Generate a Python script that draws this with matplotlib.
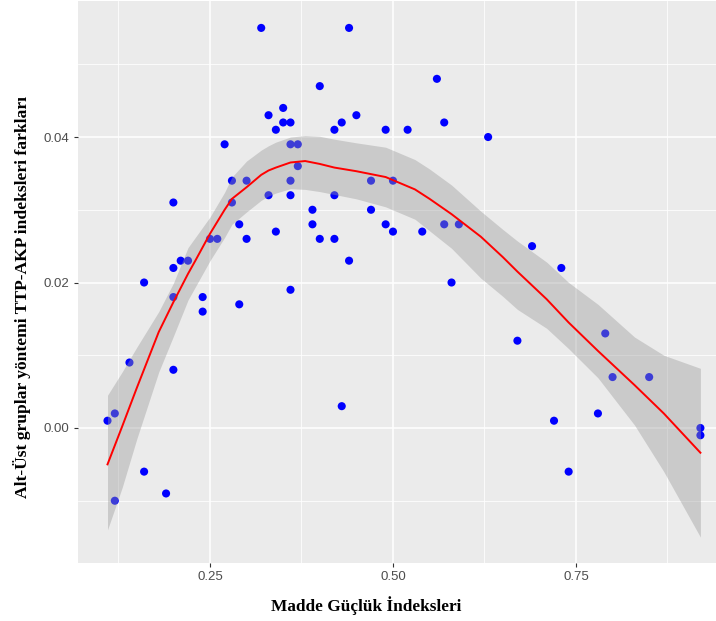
import numpy as np
import matplotlib
matplotlib.use("Agg")
import matplotlib.pyplot as plt

# item difficulty (x) vs. TTP-AKP index difference (y)
guclluk = [0.11, 0.12, 0.12, 0.14, 0.16, 0.16, 0.19, 0.20, 0.20, 0.20,
           0.20, 0.21, 0.22, 0.24, 0.24, 0.25, 0.26, 0.27, 0.28, 0.28,
           0.29, 0.29, 0.30, 0.30, 0.32, 0.33, 0.33, 0.34, 0.34, 0.35,
           0.35, 0.36, 0.36, 0.36, 0.36, 0.36, 0.37, 0.37, 0.39, 0.39,
           0.40, 0.40, 0.42, 0.42, 0.42, 0.43, 0.43, 0.44, 0.44, 0.45,
           0.47, 0.47, 0.49, 0.49, 0.50, 0.50, 0.52, 0.54, 0.56, 0.57,
           0.57, 0.58, 0.59, 0.63, 0.67, 0.69, 0.72, 0.73, 0.74, 0.78,
           0.79, 0.80, 0.85, 0.92, 0.92]
fark = [0.001, 0.002, -0.010, 0.009, 0.020, -0.006, -0.009, 0.031, 0.022, 0.018,
        0.008, 0.023, 0.023, 0.018, 0.016, 0.026, 0.026, 0.039, 0.034, 0.031,
        0.028, 0.017, 0.034, 0.026, 0.055, 0.043, 0.032, 0.041, 0.027, 0.044,
        0.042, 0.042, 0.039, 0.034, 0.032, 0.019, 0.039, 0.036, 0.030, 0.028,
        0.047, 0.026, 0.041, 0.032, 0.026, 0.042, 0.003, 0.055, 0.023, 0.043,
        0.034, 0.030, 0.041, 0.028, 0.034, 0.027, 0.041, 0.027, 0.048, 0.042,
        0.028, 0.020, 0.028, 0.040, 0.012, 0.025, 0.001, 0.022, -0.006, 0.002,
        0.013, 0.007, 0.007, 0.000, -0.001]

# loess curve and confidence band
smooth_x = [0.11, 0.13, 0.15, 0.18, 0.20, 0.22, 0.23, 0.25, 0.27, 0.28,
            0.30, 0.32, 0.33, 0.34, 0.36, 0.38, 0.40, 0.42, 0.45, 0.49,
            0.53, 0.55, 0.58, 0.62, 0.65, 0.67, 0.71, 0.74, 0.78, 0.83,
            0.87, 0.92]
smooth_fit = [-0.0050, 0.0002, 0.0055, 0.0132, 0.0173, 0.0212, 0.0230, 0.0267, 0.0300, 0.0315,
              0.0331, 0.0348, 0.0354, 0.0358, 0.0365, 0.0367, 0.0363, 0.0358, 0.0353, 0.0345,
              0.0328, 0.0315, 0.0294, 0.0263, 0.0235, 0.0215, 0.0177, 0.0145, 0.0106, 0.0059,
              0.0020, -0.0034]
smooth_hi = [0.0045, 0.0077, 0.0111, 0.0160, 0.0199, 0.0248, 0.0262, 0.0290, 0.0324, 0.0345,
             0.0367, 0.0382, 0.0388, 0.0393, 0.0400, 0.0402, 0.0401, 0.0397, 0.0392, 0.0386,
             0.0369, 0.0356, 0.0334, 0.0298, 0.0273, 0.0257, 0.0228, 0.0200, 0.0170, 0.0125,
             0.0100, 0.0082]
smooth_lo = [-0.0140, -0.0082, -0.0015, 0.0077, 0.0126, 0.0176, 0.0194, 0.0230, 0.0262, 0.0280,
             0.0297, 0.0313, 0.0319, 0.0323, 0.0329, 0.0328, 0.0325, 0.0321, 0.0315, 0.0304,
             0.0287, 0.0271, 0.0247, 0.0206, 0.0181, 0.0163, 0.0137, 0.0109, 0.0069, 0.0004,
             -0.0060, -0.0150]

x_ticks = [0.25, 0.50, 0.75]
x_labels = ["0.25", "0.50", "0.75"]
y_ticks = [0.00, 0.02, 0.04]
y_labels = ["0.00", "0.02", "0.04"]

fig = plt.figure(figsize=(7.16, 6.21), dpi=100)
ax = fig.add_axes([78 / 716, 1 - 563 / 621, 638 / 716, 562 / 621])
ax.set_facecolor("#EBEBEB")
for s in ax.spines.values():
    s.set_visible(False)

ax.set_xlim(0.0697, 0.9413)
ax.set_ylim(-0.01856, 0.0587)

ax.set_xticks(x_ticks)
ax.set_xticklabels(x_labels)
ax.set_yticks(y_ticks)
ax.set_yticklabels(y_labels)
ax.set_xticks([0.125, 0.375, 0.625, 0.875], minor=True)
ax.set_yticks([-0.01, 0.01, 0.03, 0.05], minor=True)
ax.grid(which="major", color="white", linewidth=1.1)
ax.grid(which="minor", color="white", linewidth=0.55)
ax.set_axisbelow(True)
ax.tick_params(which="major", length=3, width=0.8, color="#333333",
               labelcolor="#4D4D4D", labelsize=9.5, pad=3)
ax.tick_params(which="minor", length=0)
for lab in ax.get_xticklabels() + ax.get_yticklabels():
    lab.set_fontfamily("Liberation Sans")

ax.scatter(guclluk, fark, s=34, color="#0000FF", edgecolors="none", zorder=2)
ax.fill_between(smooth_x, smooth_lo, smooth_hi, color="#999999", alpha=0.4,
                linewidth=0, zorder=3)
ax.plot(smooth_x, smooth_fit, color="#FF0000", linewidth=1.4, zorder=4)

fig.text(366 / 716, 1 - 606 / 621, "Madde Güçlük İndeksleri", ha="center", va="center",
         fontfamily="Liberation Serif", fontweight="bold", fontsize=12.4)
fig.text(22 / 716, 1 - 297 / 621, "Alt-Üst gruplar yöntemi TTP-AKP indeksleri farkları",
         ha="center", va="center", rotation=90,
         fontfamily="Liberation Serif", fontweight="bold", fontsize=12.6)

fig.savefig("out.png", dpi=100, facecolor="white")
